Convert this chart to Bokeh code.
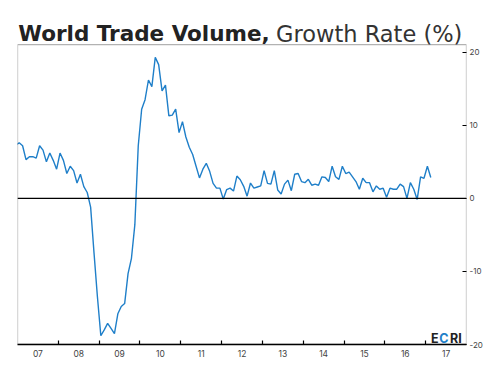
from bokeh.plotting import figure
from bokeh.models import FixedTicker, CustomJSTickFormatter, Span, Label, ColumnDataSource, BoxAnnotation
from bokeh.embed import file_html
from bokeh.resources import INLINE

# Monthly growth rate (%) of world trade volume, Dec 2006 .. Feb 2017
start_year = 2006
start_month = 12
growth = [
    7.3,
    7.6, 7.2, 5.3, 5.7, 5.7, 5.5, 7.2, 6.6, 5.0, 6.2, 5.2, 4.0,          # 2007
    6.2, 5.2, 3.4, 4.4, 3.8, 2.1, 3.3, 1.6, 0.8, -1.2, -7.5, -13.5,     # 2008
    -18.8, -18.0, -17.1, -17.8, -18.5, -15.8, -14.8, -14.4, -10.3, -8.2, -3.6, 7.2,  # 2009
    12.2, 13.5, 16.2, 15.3, 19.3, 18.3, 14.7, 15.5, 11.3, 11.4, 12.2, 9.0,  # 2010
    10.5, 8.4, 7.0, 6.0, 4.4, 2.8, 4.0, 4.8, 3.7, 2.05, 1.4, 1.4,       # 2011
    -0.1, 1.2, 1.4, 1.0, 3.05, 2.55, 1.65, 0.3, 2.1, 1.4, 1.55, 1.7,   # 2012
    3.8, 2.05, 1.95, 3.8, 1.15, 0.6, 1.95, 2.5, 1.05, 3.3, 3.4, 2.3,   # 2013
    2.15, 2.6, 1.8, 1.95, 1.8, 2.95, 2.85, 2.3, 4.4, 2.95, 2.6, 4.4,   # 2014
    3.4, 3.6, 2.95, 2.3, 1.25, 2.75, 2.15, 2.15, 0.9, 1.7, 1.25, 1.4,  # 2015
    0.15, 1.4, 1.25, 1.25, 1.95, 1.6, 0.0, 2.15, 1.25, -0.15, 2.95, 2.75,  # 2016
    4.4, 2.85,                                                          # 2017
]
year_labels = ["07", "08", "09", "10", "11", "12", "13", "14", "15", "16", "17"]
y_ticks = [-20, -10, 0, 10, 20]
y_tick_labels = ["-20", "-10", "0", "10", "20"]

first_year = 2007
n_years = len(year_labels)
y_min, y_max = -20, 21.05      # plotted box
head_room = 6.03               # extra value range above the box for the title
dates = [start_year + (start_month - 1 + i + 0.5) / 12.0 for i in range(len(growth))]
src = ColumnDataSource(dict(x=dates, y=growth))

title_font = "DejaVu Sans"
label_font = "Inter"
blue = "#1f7fc9"

p = figure(frame_width=449, frame_height=344,
           x_range=(first_year, first_year + n_years), y_range=(y_min, y_max + head_room),
           y_axis_location="right", output_backend="svg", toolbar_location=None,
           min_border_left=17, min_border_top=0, min_border_right=4, min_border_bottom=4)
p.background_fill_color = "white"
p.border_fill_color = "white"
p.xgrid.visible = False
p.ygrid.visible = False
p.outline_line_color = None

# chart box
p.add_layout(BoxAnnotation(left=first_year, right=first_year + n_years, bottom=y_min, top=y_max,
                           fill_color=None, fill_alpha=0, line_color="black", line_width=1.3))

p.line("x", "y", source=src, line_color=blue, line_width=1.4)
p.add_layout(Span(location=0, dimension="width", line_color="black", line_width=1.2))

xa = p.xaxis[0]
xa.ticker = FixedTicker(ticks=[first_year + k + 0.5 for k in range(n_years)],
                        minor_ticks=[first_year + k for k in range(1, n_years)])
xa.formatter = CustomJSTickFormatter(code="return String(Math.floor(tick) % 100).padStart(2, '0');")
xa.major_tick_in = 0
xa.major_tick_out = 0
xa.minor_tick_in = 4
xa.minor_tick_out = 0
xa.minor_tick_line_color = "black"
xa.minor_tick_line_width = 1.2
xa.axis_line_color = "black"
xa.axis_line_width = 1.3
xa.major_label_standoff = 5
xa.major_label_text_font = label_font
xa.major_label_text_font_size = "8.5px"
xa.major_label_text_color = "#444444"

ya = p.yaxis[0]
ya.ticker = FixedTicker(ticks=y_ticks)
ya.major_label_overrides = {v: s for v, s in zip(y_ticks, y_tick_labels)}
ya.major_tick_in = 4
ya.major_tick_out = 0
ya.minor_tick_in = 0
ya.minor_tick_out = 0
ya.major_tick_line_color = "black"
ya.major_tick_line_width = 1.2
ya.axis_line_color = None
ya.major_label_standoff = 3
ya.major_label_text_font = label_font
ya.major_label_text_font_size = "8px"
ya.major_label_text_color = "#444444"

# title
title_y = 22.56
p.add_layout(Label(x=2007.017, y=title_y, text="World Trade Volume,", text_font=title_font,
                   text_font_style="bold", text_font_size="21.5px", text_color="#222222",
                   text_baseline="alphabetic", text_align="left"))
p.add_layout(Label(x=2013.334, y=title_y, text="Growth Rate (%)", text_font=title_font,
                   text_font_style="normal", text_font_size="22.5px", text_color="#333333",
                   text_baseline="alphabetic", text_align="left"))

# ECRI logo
logo_font = "Inter"
logo_y = -19.18
p.add_layout(Label(x=2017.132, y=logo_y, text="E", text_font=logo_font, text_font_style="bold",
                   text_font_size="12.5px", text_color="#222222", text_baseline="alphabetic"))
p.add_layout(Label(x=2017.334, y=logo_y, text="C", text_font=logo_font, text_font_style="bold",
                   text_font_size="12.5px", text_color=blue, text_baseline="alphabetic"))
p.add_layout(Label(x=2017.595, y=logo_y, text="RI", text_font=logo_font, text_font_style="bold",
                   text_font_size="12.5px", text_color="#222222", text_baseline="alphabetic"))

open("out.html", "w").write(file_html(p, INLINE))
